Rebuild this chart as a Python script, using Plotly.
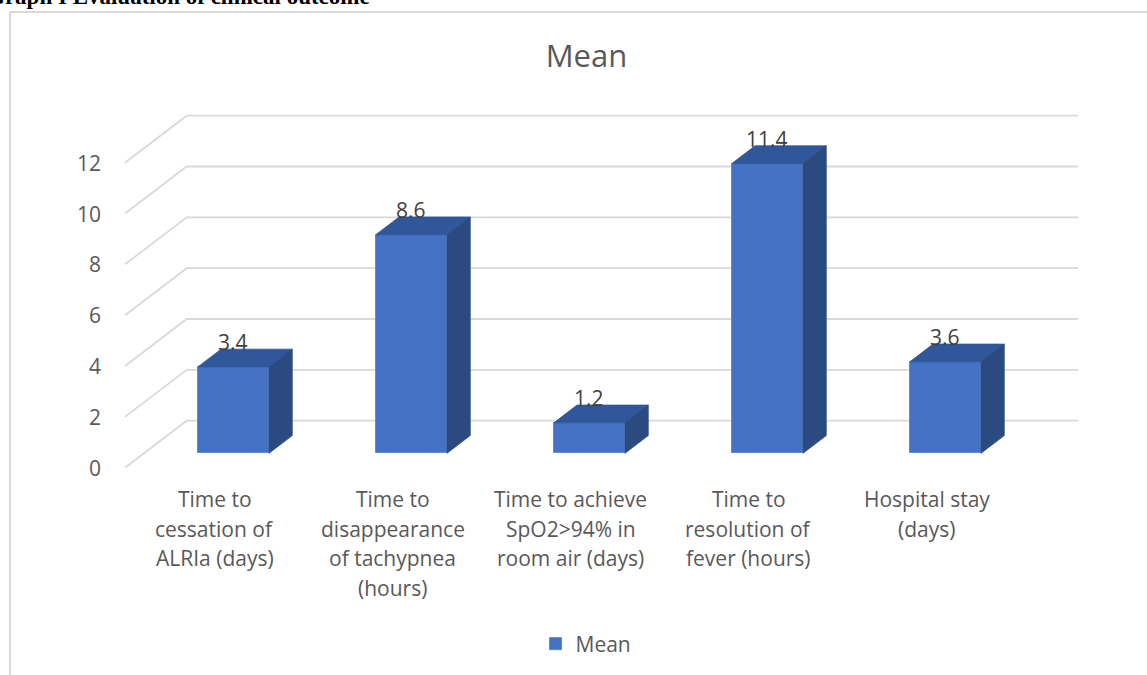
import plotly.graph_objects as go

# ---- data -------------------------------------------------------------
categories = [
    "Time to\ncessation of\nALRIa (days)",
    "Time to\ndisappearance\nof tachypnea\n(hours)",
    "Time to achieve\nSpO2>94% in\nroom air (days)",
    "Time to\nresolution of\nfever (hours)",
    "Hospital stay\n(days)",
]
means = [3.4, 8.6, 1.2, 11.4, 3.6]
y_ticks = [0, 2, 4, 6, 8, 10, 12]

# ---- geometry of the oblique 3-D projection (pixels) ------------------
W, H = 1147, 675
X0_PX = 214.5        # front-plane centre of the first category
STEP_PX = 178.0      # distance between categories
Y0_PX = 467.7        # front-plane zero line
UNIT_PX = 25.42      # pixels per value unit
DEPTH_PX = (61.7, 47.0)
FLOOR_LEFT_PX = 125.0
WALL_RIGHT_PX = 1078.0

x_range = [-X0_PX / STEP_PX, (W - X0_PX) / STEP_PX]
y_range = [(Y0_PX - H) / UNIT_PX, Y0_PX / UNIT_PX]
ddx = DEPTH_PX[0] / STEP_PX
ddy = DEPTH_PX[1] / UNIT_PX
floor_left = (FLOOR_LEFT_PX - X0_PX) / STEP_PX
wall_right = (WALL_RIGHT_PX - X0_PX) / STEP_PX

BAR_W = 0.40
F_FRONT, F_BACK = 0.306, 0.683   # bar depth span as fraction of floor depth

FRONT = "#4472C4"
TOP = "#30579A"
SIDE = "#2A4A80"
GRID = "#D9D9D9"
TEXT = "#595959"
FONT = "Open Sans"

fig = go.Figure()

shapes = []
# gridlines: slanted side-wall segment + back-wall line for each tick,
# kept beneath every trace
for t in y_ticks:
    path = (f"M{floor_left},{t} L{floor_left + ddx},{t + ddy} "
            f"L{wall_right},{t + ddy}")
    shapes.append(dict(type="path", xref="x", yref="y", path=path,
                       layer="below", line=dict(color=GRID, width=1.8)))

idx = list(range(len(means)))
b0 = F_FRONT * ddy
fx = [i + F_FRONT * ddx for i in idx]
dd_x = (F_BACK - F_FRONT) * ddx
dd_y = (F_BACK - F_FRONT) * ddy

# front faces of the columns
fig.add_trace(go.Bar(x=fx, y=means, base=b0, width=BAR_W, name="Mean",
                     marker=dict(color=FRONT, line=dict(color="#5F8AD6", width=1)),
                     showlegend=True))

# top and side faces of each column
tx, ty, sx, sy = [], [], [], []
for c, v in zip(fx, means):
    xl, xr = c - BAR_W / 2, c + BAR_W / 2
    top = v + b0
    tx += [xl, xr, xr + dd_x, xl + dd_x, xl, None]
    ty += [top, top, top + dd_y, top + dd_y, top, None]
    sx += [xr, xr, xr + dd_x, xr + dd_x, xr, None]
    sy += [b0, top, top + dd_y, b0 + dd_y, b0, None]
fig.add_trace(go.Scatter(x=tx, y=ty, mode="lines", fill="toself",
                         fillcolor=TOP, line=dict(color=TOP, width=0.8),
                         hoverinfo="skip", showlegend=False))
fig.add_trace(go.Scatter(x=sx, y=sy, mode="lines", fill="toself",
                         fillcolor=SIDE, line=dict(color=SIDE, width=0.8),
                         hoverinfo="skip", showlegend=False))

ann = []
# value labels
for c, v in zip(fx, means):
    ann.append(dict(x=c, y=v + b0, text=f"{v:g}", showarrow=False,
                    xanchor="center", yanchor="middle", yshift=25,
                    font=dict(family=FONT, size=21, color="#404040")))
# value-axis tick labels on the front edge
for t in y_ticks:
    ann.append(dict(x=floor_left, y=t, text=str(t), showarrow=False,
                    xanchor="right", yanchor="middle", xshift=-22,
                    font=dict(family=FONT, size=21, color=TEXT)))
# category labels, one line at a time
for i, cat in zip(idx, categories):
    for k, line in enumerate(cat.split("\n")):
        ann.append(dict(x=i, y=0, text=line, showarrow=False,
                        xanchor="center", yanchor="middle",
                        yshift=-(31.3 + 29.7 * k),
                        font=dict(family=FONT, size=21, color=TEXT)))
# page heading above the chart frame
ann.append(dict(xref="paper", yref="paper", x=-15 / W, y=1 + 3 / H,
                text="<b>Graph I Evaluation of clinical outcome</b>",
                showarrow=False, xanchor="left", yanchor="middle",
                font=dict(family="Liberation Serif", size=23, color="black")))

# chart frame
shapes += [
    dict(type="line", xref="paper", yref="paper", x0=10 / W, x1=1,
         y0=1 - 12 / H, y1=1 - 12 / H, line=dict(color=GRID, width=2)),
    dict(type="line", xref="paper", yref="paper", x0=10 / W, x1=10 / W,
         y0=0, y1=1 - 12 / H, line=dict(color=GRID, width=2)),
]

fig.update_layout(
    width=W, height=H,
    margin=dict(l=0, r=0, t=0, b=0),
    paper_bgcolor="white", plot_bgcolor="white",
    xaxis=dict(range=x_range, visible=False, fixedrange=True),
    yaxis=dict(range=y_range, visible=False, fixedrange=True),
    title=dict(text="Mean", x=586.5 / W, y=1 - 56 / H,
               xanchor="center", yanchor="middle",
               font=dict(family=FONT, size=31, color=TEXT)),
    legend=dict(orientation="h", x=586 / W, y=1 - 644 / H,
                xanchor="center", yanchor="middle",
                font=dict(family=FONT, size=21, color=TEXT)),
    annotations=ann,
    shapes=shapes,
    bargap=0,
)

fig.write_html("out.html")
